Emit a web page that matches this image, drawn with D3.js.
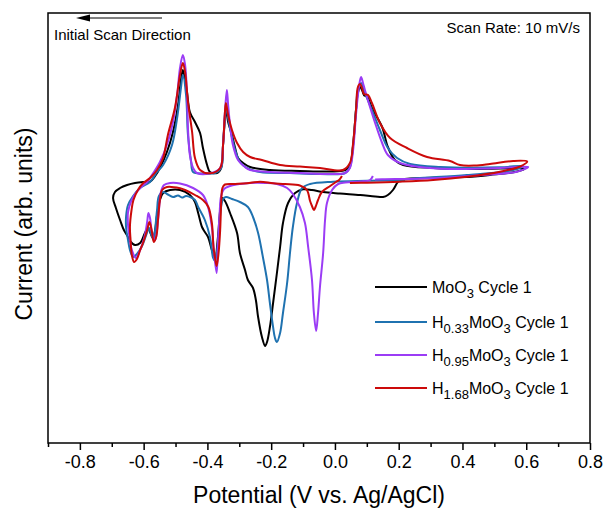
<!DOCTYPE html>
<html>
<head>
<meta charset="utf-8">
<script src="https://cdn.jsdelivr.net/npm/d3@7/dist/d3.min.js"></script>
<style>
  body { margin: 0; background: #fff; }
  svg { font-family: "Liberation Sans", Arial, sans-serif; }
</style>
</head>
<body>
<svg id="svg1" width="605" height="510"></svg>
<script>
// tick values on the potential axis
var majorTicks = [-0.8, -0.6, -0.4, -0.2, 0.0, 0.2, 0.4, 0.6, 0.8];
var minorTicks = [-0.9, -0.7, -0.5, -0.3, -0.1, 0.1, 0.3, 0.5, 0.7];

// [potential (V), current (arb. units)], in scan order
var moo3 = [
  [0.418,0.30],[0.330,0.25],[0.236,0.15],[0.204,0.0],[0.195,-0.3],[0.182,-1.0],[0.166,-1.5],[0.151,-1.7],
  [0.126,-1.65],[0.079,-1.5],[0.016,-1.35],[-0.037,-1.2],[-0.072,-1.0],[-0.100,-0.93],[-0.125,-1.3],
  [-0.147,-2.3],[-0.163,-4.3],[-0.172,-6.7],[-0.182,-9.3],[-0.194,-12.3],[-0.204,-14.7],[-0.213,-16.2],
  [-0.219,-16.6],[-0.229,-15.7],[-0.241,-13.7],[-0.248,-12.0],[-0.257,-10.8],[-0.273,-10.0],[-0.282,-9.0],
  [-0.298,-7.3],[-0.307,-5.3],[-0.329,-3.3],[-0.345,-2.1],[-0.354,-1.8],[-0.360,-3.0],[-0.367,-5.7],
  [-0.376,-7.8],[-0.386,-7.0],[-0.398,-5.7],[-0.408,-5.2],[-0.417,-4.7],[-0.429,-3.3],[-0.439,-2.2],
  [-0.455,-1.5],[-0.486,-1.0],[-0.517,-1.0],[-0.539,-1.3],[-0.549,-2.0],[-0.558,-3.5],[-0.564,-5.0],
  [-0.571,-5.8],[-0.580,-5.2],[-0.586,-4.8],[-0.596,-5.3],[-0.611,-6.3],[-0.627,-6.5],[-0.643,-6.1],
  [-0.649,-5.7],[-0.662,-5.0],[-0.674,-4.0],[-0.687,-2.8],[-0.696,-1.8],[-0.690,-1.2],[-0.674,-0.8],
  [-0.652,-0.5],[-0.627,-0.3],[-0.596,-0.2],[-0.580,-0.17],[-0.564,0.4],[-0.549,1.2],[-0.527,2.8],
  [-0.508,4.8],[-0.492,7.5],[-0.483,10.0],[-0.477,11.0],[-0.470,10.0],[-0.464,8.8],[-0.455,6.8],
  [-0.439,5.8],[-0.423,4.7],[-0.414,3.2],[-0.401,1.5],[-0.392,0.8],[-0.370,0.7],[-0.357,1.2],
  [-0.351,3.5],[-0.345,6.2],[-0.342,7.2],[-0.335,5.8],[-0.323,4.5],[-0.313,3.2],[-0.304,2.2],
  [-0.288,1.7],[-0.266,1.3],[-0.204,1.0],[-0.110,0.9],[-0.015,0.85],[0.032,1.0],[0.047,1.5],
  [0.057,3.5],[0.066,7.0],[0.072,8.7],[0.079,9.3],[0.085,9.0],[0.091,8.5],[0.101,8.3],[0.119,7.0],
  [0.148,5.3],[0.166,3.3],[0.188,2.0],[0.214,1.5],[0.308,1.2],[0.424,1.1],[0.518,1.15],[0.596,1.15],
  [0.564,0.8],[0.486,0.5],[0.418,0.3]
];

var h033 = [
  [0.220,0.0],[0.101,-0.07],[-0.006,-0.17],[-0.078,-0.4],[-0.103,-0.8],[-0.119,-2.3],[-0.132,-4.7],
  [-0.141,-7.3],[-0.150,-10.3],[-0.163,-13.3],[-0.172,-15.3],[-0.182,-16.2],[-0.188,-15.8],[-0.194,-14.7],
  [-0.204,-12.3],[-0.213,-10.0],[-0.226,-7.7],[-0.241,-5.3],[-0.257,-3.7],[-0.273,-2.7],[-0.298,-2.2],
  [-0.323,-1.9],[-0.342,-1.7],[-0.351,-1.9],[-0.360,-3.5],[-0.367,-6.3],[-0.376,-8.1],[-0.382,-7.8],
  [-0.392,-5.7],[-0.408,-4.0],[-0.429,-2.7],[-0.439,-2.0],[-0.451,-1.75],[-0.467,-1.6],[-0.480,-1.75],
  [-0.492,-1.55],[-0.508,-1.7],[-0.524,-1.45],[-0.539,-1.2],[-0.552,-1.6],[-0.558,-3.0],[-0.564,-5.0],
  [-0.568,-6.0],[-0.577,-5.4],[-0.583,-4.8],[-0.593,-5.6],[-0.605,-6.6],[-0.621,-7.4],[-0.633,-7.7],
  [-0.643,-7.0],[-0.649,-6.0],[-0.655,-4.8],[-0.655,-3.6],[-0.649,-2.5],[-0.633,-1.6],[-0.611,-0.8],
  [-0.580,-0.2],[-0.558,0.8],[-0.539,1.5],[-0.511,3.5],[-0.495,6.2],[-0.483,9.2],[-0.477,10.5],
  [-0.467,8.5],[-0.461,4.5],[-0.451,1.8],[-0.445,0.8],[-0.414,0.65],[-0.376,0.7],[-0.357,1.2],
  [-0.351,3.5],[-0.345,6.5],[-0.342,7.4],[-0.335,6.2],[-0.326,4.7],[-0.313,3.0],[-0.298,1.8],
  [-0.276,1.2],[-0.235,0.8],[-0.141,0.7],[-0.047,0.6],[0.032,0.7],[0.047,1.3],[0.057,3.5],[0.066,7.0],
  [0.072,9.0],[0.082,9.7],[0.094,8.7],[0.116,7.0],[0.141,5.0],[0.166,3.2],[0.195,2.2],[0.236,1.6],
  [0.330,1.3],[0.518,1.27],[0.590,1.4],[0.559,1.0],[0.414,0.5],[0.257,0.17],[0.220,0.05]
];

var h095 = [
  [0.119,0.4],[0.110,0.0],[0.079,-0.15],[0.032,-0.25],[0.010,-0.4],[-0.009,-1.0],[-0.025,-2.3],
  [-0.031,-4.0],[-0.037,-7.3],[-0.047,-10.7],[-0.053,-13.3],[-0.059,-15.1],[-0.066,-13.3],[-0.072,-10.0],
  [-0.084,-6.7],[-0.094,-4.3],[-0.110,-2.7],[-0.132,-1.4],[-0.150,-0.8],[-0.182,-0.4],[-0.219,-0.3],
  [-0.266,-0.3],[-0.298,-0.4],[-0.329,-0.6],[-0.348,-0.9],[-0.357,-1.6],[-0.362,-3.5],[-0.367,-6.5],
  [-0.371,-9.3],[-0.379,-7.3],[-0.386,-4.7],[-0.398,-2.7],[-0.414,-1.5],[-0.445,-0.8],[-0.486,-0.35],
  [-0.517,-0.3],[-0.536,-0.5],[-0.546,-1.2],[-0.552,-3.0],[-0.558,-5.0],[-0.564,-6.0],[-0.574,-5.2],
  [-0.580,-3.8],[-0.585,-3.3],[-0.589,-4.2],[-0.596,-5.5],[-0.605,-6.5],[-0.615,-7.3],[-0.624,-7.8],
  [-0.637,-7.0],[-0.643,-6.0],[-0.649,-4.5],[-0.649,-3.2],[-0.640,-2.2],[-0.627,-1.4],[-0.608,-0.7],
  [-0.589,-0.2],[-0.580,0.2],[-0.549,1.8],[-0.524,3.8],[-0.508,5.8],[-0.495,8.5],[-0.486,11.2],
  [-0.477,12.5],[-0.470,11.5],[-0.464,8.5],[-0.461,5.2],[-0.455,2.5],[-0.445,1.2],[-0.433,0.7],
  [-0.392,0.67],[-0.360,1.2],[-0.351,3.5],[-0.345,6.8],[-0.339,9.0],[-0.335,7.5],[-0.329,5.5],
  [-0.320,3.5],[-0.304,2.0],[-0.282,1.3],[-0.266,1.0],[-0.204,0.8],[-0.110,0.7],[-0.015,0.6],
  [0.032,0.7],[0.047,1.2],[0.057,3.0],[0.066,6.5],[0.076,9.5],[0.082,10.3],[0.088,9.7],[0.094,9.0],
  [0.110,7.3],[0.126,5.7],[0.148,3.7],[0.166,2.5],[0.204,1.7],[0.267,1.3],[0.361,1.1],[0.518,1.2],
  [0.571,1.3],[0.606,1.3],[0.571,0.83],[0.465,0.5],[0.308,0.17],[0.151,0.07],[0.126,0.05]
];

var h168 = [
  [0.022,0.4],[0.013,0.0],[0.003,-0.2],[-0.015,-0.6],[-0.041,-1.2],[-0.053,-2.0],[-0.061,-2.7],
  [-0.066,-3.0],[-0.072,-2.6],[-0.078,-2.1],[-0.088,-1.0],[-0.110,-0.55],[-0.157,-0.4],[-0.194,-0.33],
  [-0.235,-0.17],[-0.276,-0.33],[-0.313,-0.4],[-0.345,-0.45],[-0.353,-0.8],[-0.356,-1.7],[-0.360,-5.0],
  [-0.365,-7.3],[-0.371,-8.6],[-0.376,-7.8],[-0.381,-6.7],[-0.386,-4.3],[-0.397,-2.7],[-0.414,-2.0],
  [-0.439,-1.5],[-0.470,-1.0],[-0.486,-0.83],[-0.527,-0.7],[-0.542,-1.0],[-0.549,-2.0],[-0.555,-4.0],
  [-0.560,-5.6],[-0.568,-6.2],[-0.575,-5.0],[-0.582,-4.2],[-0.589,-5.0],[-0.602,-6.3],[-0.611,-7.0],
  [-0.621,-7.9],[-0.630,-8.2],[-0.637,-7.5],[-0.641,-6.0],[-0.643,-4.7],[-0.638,-3.0],[-0.632,-2.0],
  [-0.618,-1.0],[-0.602,-0.33],[-0.580,0.2],[-0.558,1.0],[-0.539,2.2],[-0.524,4.5],[-0.502,7.2],
  [-0.486,10.5],[-0.477,11.7],[-0.470,10.8],[-0.461,7.8],[-0.448,4.8],[-0.439,2.2],[-0.423,1.0],
  [-0.392,0.67],[-0.360,1.2],[-0.351,3.5],[-0.345,6.8],[-0.342,7.7],[-0.335,6.5],[-0.323,5.0],
  [-0.307,3.7],[-0.288,2.8],[-0.266,2.3],[-0.229,2.0],[-0.172,1.5],[-0.110,1.35],[-0.047,1.2],
  [0.025,1.0],[0.047,1.7],[0.057,3.7],[0.066,7.0],[0.072,9.3],[0.079,9.6],[0.085,9.2],[0.091,8.6],
  [0.104,8.5],[0.116,7.7],[0.141,5.7],[0.173,4.2],[0.226,3.2],[0.289,2.3],[0.361,1.9],[0.392,1.5],
  [0.439,1.45],[0.486,1.6],[0.559,1.9],[0.603,1.85],[0.581,1.35],[0.518,0.83],[0.414,0.33],
  [0.308,0.0],[0.204,-0.17],[0.101,-0.27],[0.047,-0.3]
];

// legend labels: [text, subscript?] parts
var labels = [
  [["MoO",0],["3",1],[" Cycle 1",0]],
  [["H",0],["0.33",1],["MoO",0],["3",1],[" Cycle 1",0]],
  [["H",0],["0.95",1],["MoO",0],["3",1],[" Cycle 1",0]],
  [["H",0],["1.68",1],["MoO",0],["3",1],[" Cycle 1",0]]
];
var colors = ["#000000", "#1f72b0", "#9b3cf5", "#cc0a0a"];
var series = [moo3, h033, h095, h168];

var mLeft = 48, mRight = 590, mTop = 13, mBottom = 443;

var svg = d3.select("#svg1");

var x = d3.scaleLinear().domain([-0.9, 0.8]).range([mLeft, mRight]);
var y = d3.scaleLinear().domain([-26.3, 16.7]).range([mBottom, mTop]);

var line = d3.line()
    .x(function(d) { return x(d[0]); })
    .y(function(d) { return y(d[1]); })
    .curve(d3.curveCatmullRom.alpha(0.5));

series.forEach(function(s, i) {
    svg.append("path")
        .datum(s)
        .attr("fill", "none")
        .attr("stroke", colors[i])
        .attr("stroke-width", 2)
        .attr("stroke-linejoin", "round")
        .attr("d", line);
});

// frame
svg.append("rect")
    .attr("x", mLeft).attr("y", mTop)
    .attr("width", mRight - mLeft).attr("height", mBottom - mTop)
    .attr("fill", "none").attr("stroke", "#000").attr("stroke-width", 1.5);

// bottom axis, major + minor ticks
var xAxis = svg.append("g")
    .attr("transform", `translate(0, ${mBottom})`)
    .call(d3.axisBottom(x).tickValues(majorTicks).tickSize(7).tickPadding(5)
        .tickFormat(function(d) { return d3.format(".1f")(d).replace("\u2212", "-"); }));
xAxis.select(".domain").remove();
xAxis.selectAll("line").attr("stroke-width", 1.5);
xAxis.selectAll("text")
    .attr("font-size", 18)
    .attr("font-family", "Liberation Sans, Arial, sans-serif");

svg.append("g")
    .attr("transform", `translate(0, ${mBottom})`)
    .call(d3.axisBottom(x).tickValues(minorTicks).tickSize(4).tickFormat(""))
    .call(function(g) { g.select(".domain").remove(); })
    .selectAll("line").attr("stroke-width", 1.5);

// axis titles
svg.append("text")
    .attr("x", (mLeft + mRight) / 2)
    .attr("y", 503)
    .attr("text-anchor", "middle")
    .attr("font-size", 23)
    .text("Potential (V vs. Ag/AgCl)");

svg.append("text")
    .attr("transform", "rotate(-90)")
    .attr("x", -224)
    .attr("y", 32)
    .attr("text-anchor", "middle")
    .attr("font-size", 23)
    .text("Current (arb. units)");

// annotations
svg.append("line")
    .attr("x1", 162).attr("y1", 18)
    .attr("x2", 86).attr("y2", 18)
    .attr("stroke", "#000").attr("stroke-width", 1);
svg.append("path")
    .attr("d", "M76,18 L90,14.5 L90,21.5 Z")
    .attr("fill", "#000");

svg.append("text")
    .attr("x", 54).attr("y", 40)
    .attr("font-size", 15)
    .text("Initial Scan Direction");

svg.append("text")
    .attr("x", 580).attr("y", 33)
    .attr("text-anchor", "end")
    .attr("font-size", 15)
    .text("Scan Rate: 10 mV/s");

// legend
var legendY = [287, 322, 355, 388];
labels.forEach(function(parts, i) {
    svg.append("line")
        .attr("x1", 375).attr("x2", 427)
        .attr("y1", legendY[i]).attr("y2", legendY[i])
        .attr("stroke", colors[i]).attr("stroke-width", 2);
    var t = svg.append("text")
        .attr("x", 432).attr("y", legendY[i] + 6)
        .attr("font-size", 16);
    var shifted = false;
    parts.forEach(function(p) {
        var ts = t.append("tspan").text(p[0]);
        if (p[1] && !shifted) { ts.attr("dy", 5).attr("font-size", 13); shifted = true; }
        else if (p[1]) { ts.attr("font-size", 13); }
        else if (shifted) { ts.attr("dy", -5); shifted = false; }
    });
});
</script>
</body>
</html>
